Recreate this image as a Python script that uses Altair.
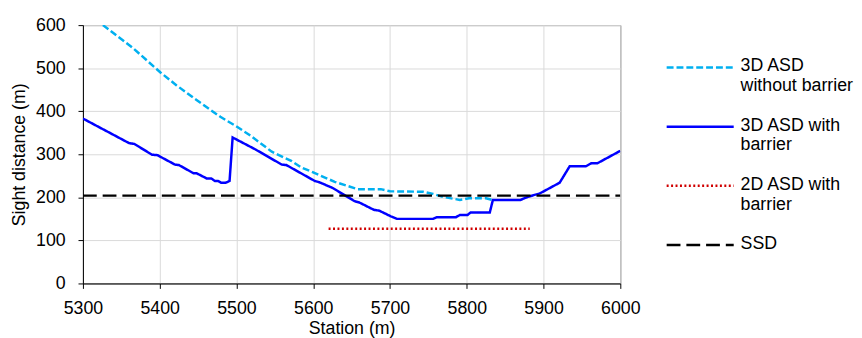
import altair as alt
import pandas as pd

# ---- data ----
no_barrier_x = [5326, 5365, 5401, 5422, 5448, 5479, 5497, 5517, 5546, 5572, 5585, 5600,
                5628, 5658, 5688, 5700, 5743, 5756, 5769, 5791, 5803, 5825, 5835]
no_barrier_y = [600, 547, 490, 460, 426, 387, 368, 345, 306, 284, 269, 258,
                236, 219, 219, 214, 213, 208, 201, 194, 198, 198, 193]

barrier_x = [5300, 5360, 5367, 5390, 5397, 5420, 5425, 5444, 5448, 5461, 5467, 5472,
             5476, 5480, 5486, 5491, 5495, 5525, 5559, 5565, 5602, 5608, 5625, 5654,
             5660, 5679, 5686, 5701, 5709, 5756, 5761, 5786, 5791, 5801, 5805, 5830,
             5834, 5870, 5878, 5887, 5895, 5921, 5934, 5955, 5962, 5970, 6000]
barrier_y = [383, 326, 324, 299, 298, 276, 275, 256, 256, 244, 244, 238,
             238, 234, 234, 238, 339, 311, 276, 275, 238, 235, 222, 191,
             188, 171, 169, 156, 150, 150, 154, 154, 159, 159, 165, 165,
             194, 194, 200, 205, 209, 234, 272, 272, 279, 279, 308]

asd2d_x = [5620, 5882]
asd2d_y = [127, 127]

ssd_x = [5300, 6000]
ssd_y = [204, 204]

series_names = ["3D ASD without barrier", "3D ASD with barrier", "2D ASD with barrier", "SSD"]
legend_labels = ["3D ASD\nwithout barrier", "3D ASD with\nbarrier", "2D ASD with\nbarrier", "SSD"]
legend_rank = [0, 1, 2, 3]
series_colors = ["#00B0F0", "#0000FF", "#D00000", "#000000"]
series_dashes = [[7, 3], [1, 0], [2, 2.5], [14, 6]]
series_widths = [2.5, 2.5, 2, 2]

x_ticks = [5300, 5400, 5500, 5600, 5700, 5800, 5900, 6000]
y_ticks = [0, 100, 200, 300, 400, 500, 600]

rows = []
for name, xs, ys in zip(series_names,
                        [no_barrier_x, barrier_x, asd2d_x, ssd_x],
                        [no_barrier_y, barrier_y, asd2d_y, ssd_y]):
    for i, (x, y) in enumerate(zip(xs, ys)):
        rows.append({"series": name, "station": x, "sd": y, "order": i})
df = pd.DataFrame(rows)

FONT = "Liberation Sans"
FS = 18

color_scale = alt.Scale(domain=series_names, range=series_colors)
dash_scale = alt.Scale(domain=series_names, range=series_dashes)
width_scale = alt.Scale(domain=series_names, range=series_widths)

xenc = alt.X("station:Q", scale=alt.Scale(domain=[5300, 6000], nice=False),
             axis=alt.Axis(values=x_ticks, title="Station (m)", format="d", labelFlush=False,
                           labelFontSize=FS, titleFontSize=FS, titleFontWeight="normal",
                           labelFont=FONT, titleFont=FONT, labelColor="#000", titleColor="#000",
                           domainColor="#000", tickColor="#000", tickSize=5,
                           gridColor="#d9d9d9", labelPadding=11, titlePadding=3))
yenc = alt.Y("sd:Q", scale=alt.Scale(domain=[0, 600], nice=False),
             axis=alt.Axis(values=y_ticks, title="Sight distance (m)", labelFlush=False,
                           labelFontSize=FS, titleFontSize=FS, titleFontWeight="normal",
                           labelFont=FONT, titleFont=FONT, labelColor="#000", titleColor="#000",
                           domainColor="#000", tickColor="#000", tickSize=5,
                           gridColor="#d9d9d9", labelPadding=13, titlePadding=7))

main = alt.Chart(df).mark_line(clip=True).encode(
    x=xenc, y=yenc,
    color=alt.Color("series:N", scale=color_scale, legend=None),
    strokeDash=alt.StrokeDash("series:N", scale=dash_scale, legend=None),
    strokeWidth=alt.StrokeWidth("series:N", scale=width_scale, legend=None),
    order="order:Q",
).properties(width=545, height=262, view=alt.ViewBackground(stroke="#595959"))

leg_df = pd.DataFrame({"series": series_names, "label": legend_labels, "rank": legend_rank})
leg_base = alt.Chart(leg_df).encode(
    y=alt.Y("rank:Q", scale=alt.Scale(domain=[0, 3], range=[43, 223], nice=False, zero=False), axis=None)
)
leg_rules = leg_base.mark_rule().encode(
    x=alt.value(15), x2=alt.value(83),
    color=alt.Color("series:N", scale=color_scale, legend=None),
    strokeDash=alt.StrokeDash("series:N", scale=dash_scale, legend=None),
    strokeWidth=alt.StrokeWidth("series:N", scale=width_scale, legend=None),
)
leg_text = leg_base.mark_text(align="left", baseline="top", dy=-10, lineBreak="\n",
                              fontSize=FS, font=FONT, color="#000", lineHeight=20).encode(
    x=alt.value(90), text="label:N"
)
legend = alt.layer(leg_rules, leg_text).properties(
    width=190, height=262, view=alt.ViewBackground(stroke="transparent"))

chart = alt.hconcat(main, legend, spacing=10).properties(
    padding={"left": 2, "top": 5, "right": 0, "bottom": 0}
).configure(background="white")

chart.save("out.html", embed_options={"renderer": "svg", "actions": False})
